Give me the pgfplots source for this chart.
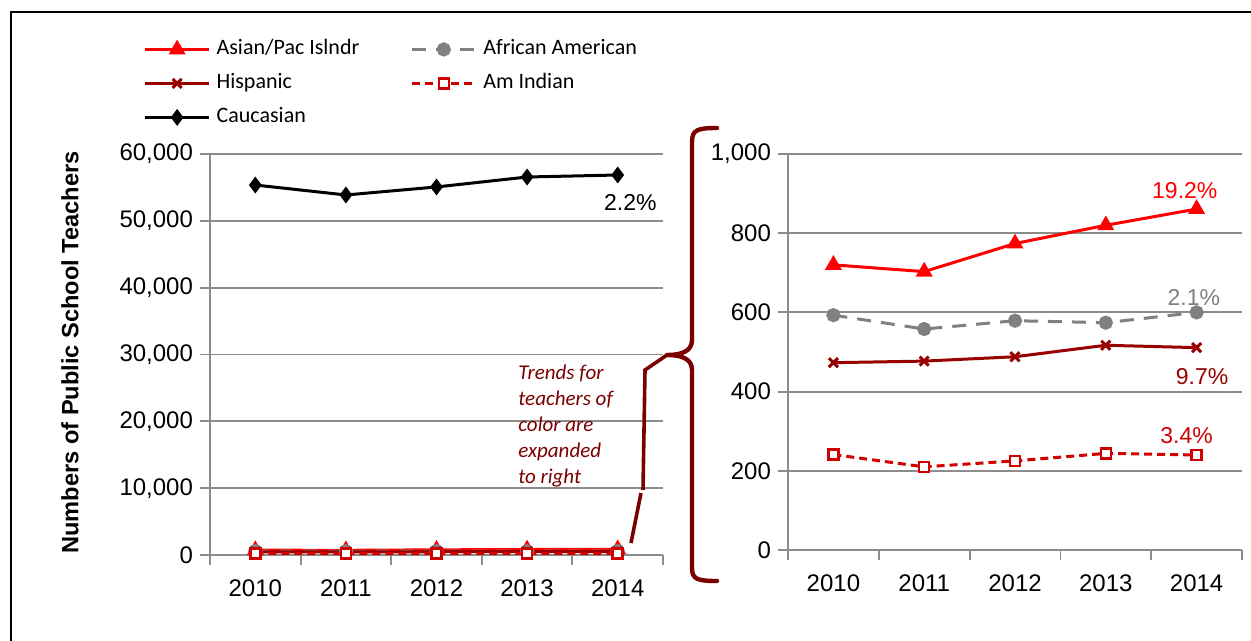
\documentclass[border=0pt]{standalone}
\usepackage{fontspec}
\setmainfont{Liberation Sans}
\newfontfamily\carlito{Carlito}
\usepackage{pgfplots}
\usepackage{pgfplotstable}
\pgfplotsset{compat=1.18}

\definecolor{asian}{HTML}{FF0000}
\definecolor{hisp}{HTML}{990000}
\definecolor{afam}{HTML}{808080}
\definecolor{amind}{HTML}{D00000}
\definecolor{maroon}{HTML}{7A0000}
\definecolor{gridgray}{HTML}{8C8C8C}

% teachers by group, 2010..2014 at x = 0..4
\pgfplotstableread{
year asian afam hisp amind cauc
0 720 593 473 241 55360
1 703 558 477 210 53870
2 774 579 488 225 55070
3 820 574 517 244 56560
4 861 600 511 240 56860
}\teachers

\tikzset{pct/.style={font=\fontsize{11.5}{13}\selectfont}}

\pgfplotsset{
  teach/.style={
    scale only axis,
    xmin=-0.5, xmax=4.5,
    xtick={-0.5,0.5,...,4.5},
    x tick label as interval,
    xticklabels={2010,2011,2012,2013,2014},
    axis x line*=bottom, axis y line*=left,
    axis line style={draw=gridgray, line width=0.9pt, -},
    tick style={draw=gridgray, line width=0.9pt},
    major tick length=5pt,
    tick align=outside,
    ymajorgrids,
    grid style={draw=gridgray, line width=0.9pt},
    ymin=0,
    scaled y ticks=false,
    ticklabel style={font=\fontsize{12}{14}\selectfont},
    xticklabel style={yshift=-4pt},
    /pgf/number format/assume math mode=true,
    /pgf/number format/1000 sep={,},
    legend image code/.code={\draw[mark repeat=2,mark phase=2,##1] plot coordinates {(0pt,0pt)(16pt,0pt)(32pt,0pt)};},
  },
  sasian/.style={asian, line width=1.5pt, mark=triangle*, mark size=3.4pt},
  safam/.style={afam, line width=1.5pt, dash pattern=on 7pt off 5pt, mark=*, mark size=2.8pt, mark options={solid}},
  shisp/.style={hisp, line width=1.5pt, mark=x, mark size=3.2pt, mark options={line width=1.5pt}},
  samind/.style={amind, line width=1.5pt, dash pattern=on 4pt off 2.5pt, mark=square*, mark size=2.5pt, mark options={solid, fill=white, line width=1.2pt}},
  scauc/.style={black, line width=1.5pt, mark=diamond*, mark size=3pt},
}

\begin{document}
\begin{tikzpicture}
\path[use as bounding box] (0,0) rectangle (625.5pt,-320.5pt);

\begin{axis}[teach,
  at={(105pt,-277.5pt)}, anchor=south west,
  width=226.5pt, height=200.5pt,
  ymax=60000, ytick={0,10000,...,60000},
  ylabel={Numbers of Public School Teachers},
  ylabel style={at={(axis description cs:-0.309,0.505)}, anchor=center, rotate=0,
    font=\bfseries\fontsize{11.8}{13}\selectfont},
  legend columns=2,
  legend cell align=left,
  legend style={at={(axis description cs:-0.1465,1.287)}, anchor=north west,
    draw=none, fill=none, inner sep=0pt, outer sep=0pt,
    font=\carlito\fontsize{11}{13}\selectfont, row sep=6.5pt,
    nodes={inner sep=0pt, text height=8pt, text depth=2.5pt},
    /tikz/every odd column/.append style={column sep=3pt},
    /tikz/every even column/.append style={column sep=25.5pt}},
]
\addplot[sasian] table[x=year,y=asian]{\teachers};
\addlegendentry{Asian/Pac Islndr}
\addplot[safam] table[x=year,y=afam]{\teachers};
\addlegendentry{African American}
\addplot[shisp] table[x=year,y=hisp]{\teachers};
\addlegendentry{Hispanic}
\addplot[samind] table[x=year,y=amind]{\teachers};
\addlegendentry{Am Indian}
\addplot[scauc] table[x=year,y=cauc]{\teachers};
\addlegendentry{Caucasian}
\node[pct] at (axis cs:4.14,52670) {2.2\%};
\end{axis}

\begin{axis}[teach,
  at={(394pt,-275pt)}, anchor=south west,
  width=227pt, height=198pt,
  ymax=1000, ytick={0,200,...,1000},
]
\addplot[sasian] table[x=year,y=asian]{\teachers};
\addplot[safam] table[x=year,y=afam]{\teachers};
\addplot[shisp] table[x=year,y=hisp]{\teachers};
\addplot[samind] table[x=year,y=amind]{\teachers};
\node[pct, text=asian] at (axis cs:3.87,907) {19.2\%};
\node[pct, text=afam] at (axis cs:3.97,638) {2.1\%};
\node[pct, text=hisp] at (axis cs:4.06,437) {9.7\%};
\node[pct, text=amind] at (axis cs:3.89,290) {3.4\%};
\end{axis}

\begin{scope}[x=0.5pt,y=-0.5pt]
  % outer frame
  \draw[line width=1pt] (11,641) -- (11,12) -- (1251,12);
  % brace
  \draw[maroon, line width=2.2pt, line cap=round, line join=round]
    (717,128) .. controls (697,128) and (692,130) .. (692,142) -- (692,340)
    .. controls (692,352) and (680,355) .. (667,355)
    .. controls (680,355) and (692,358) .. (692,370) -- (692,568)
    .. controls (692,579) and (697,581) .. (717,581);
  % connector
  \draw[maroon, line width=1.8pt] (667,355) -- (645,370) -- (643,490);
  \draw[maroon, line width=1.8pt] (641,493) -- (631,543);
  % note
  \node[anchor=north west, inner sep=0pt, align=left, text=maroon,
    font=\carlito\itshape\fontsize{10.5}{13}\selectfont] at (518,365)
    {Trends for\\teachers of\\color are\\expanded\\to right};
\end{scope}
\end{tikzpicture}
\end{document}
